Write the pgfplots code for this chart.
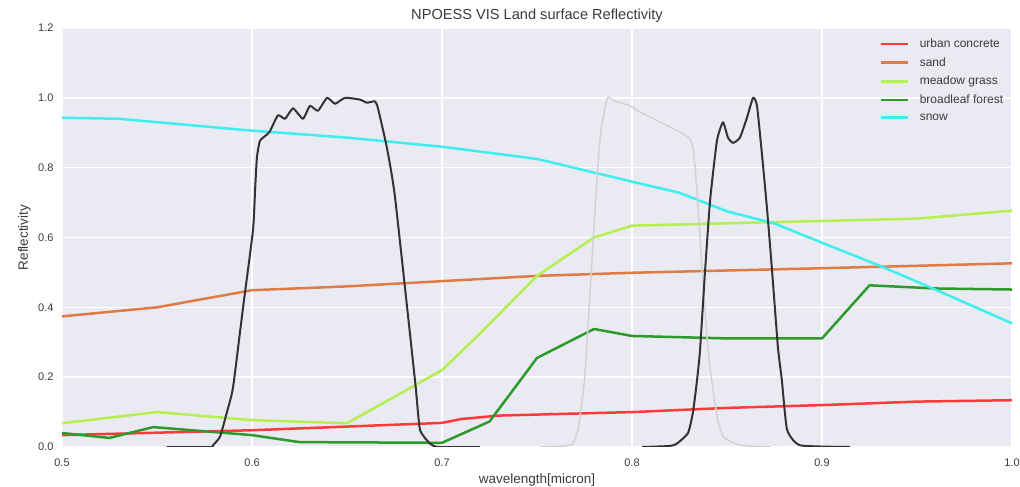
\documentclass[border=0pt]{standalone}
\usepackage{pgfplots}
\pgfplotsset{compat=1.18}
\usepackage{fontspec}
\setmainfont{Liberation Sans}
\definecolor{bg}{HTML}{EAEAF2}
\definecolor{txt}{HTML}{3A3A3A}
\definecolor{cred}{HTML}{FF3A3A}
\definecolor{csand}{HTML}{E07B45}
\definecolor{cgrass}{HTML}{B4F050}
\definecolor{cforest}{HTML}{2E9A2E}
\definecolor{csnow}{HTML}{3FEFEF}
\definecolor{cblack}{HTML}{333333}
\definecolor{cgray}{HTML}{D2D2D2}
\begin{document}
\begin{tikzpicture}[x=1pt,y=1pt]
\path[use as bounding box] (-62,-40) rectangle (958,447);
\begin{axis}[
  at={(0,0)}, anchor=south west,
  scale only axis, width=950pt, height=419pt,
  xmin=0.5, xmax=1.0, ymin=0, ymax=1.2,
  axis background/.style={fill=bg},
  axis line style={draw=none},
  major tick length=0pt,
  grid=major,
  major grid style={white, line width=1.5pt},
  xtick={0.5,0.6,0.7,0.8,0.9,1.0},
  xticklabels={0.5,0.6,0.7,0.8,0.9,1.0},
  ytick={0,0.2,0.4,0.6,0.8,1.0,1.2},
  yticklabels={0.0,0.2,0.4,0.6,0.8,1.0,1.2},
  /pgf/number format/assume math mode=true,
  ticklabel style={font=\fontsize{11}{13}\selectfont, text=txt},
  yticklabel style={xshift=-5pt},
  xticklabel style={yshift=-8pt},
  title={NPOESS VIS Land surface Reflectivity},
  title style={at={(0.5,1)}, anchor=base, yshift=2pt, font=\fontsize{14.6}{17}\selectfont, text=txt},
  xlabel={wavelength[micron]},
  xlabel style={at={(0.5,0)}, anchor=base, yshift=-36pt, font=\fontsize{13.5}{16}\selectfont, text=txt},
  ylabel={Reflectivity},
  ylabel style={at={(0,0.5)}, anchor=base, yshift=34pt, font=\fontsize{13.5}{16}\selectfont, text=txt},
  legend style={at={(0.858,0.984)}, anchor=north west, draw=none, fill=none,
    font=\fontsize{12}{14}\selectfont, text=txt, row sep=4.5pt, column sep=9pt, inner sep=2pt},
  legend cell align=left,
  legend image code/.code={\draw[#1] (0pt,0pt) -- (27pt,0pt);},
  every axis plot/.append style={line join=round},
]
\addplot[cred, line width=2.5pt] coordinates {(0.5,0.034) (0.6,0.048) (0.7,0.069) (0.71,0.08) (0.73,0.09) (0.8,0.1) (0.85,0.112) (0.9,0.12) (0.95,0.13) (1.0,0.134)};
\addlegendentry{urban concrete}
\addplot[csand, line width=2.5pt] coordinates {(0.5,0.374) (0.55,0.4) (0.6,0.449) (0.65,0.46) (0.7,0.475) (0.75,0.49) (0.8,0.499) (0.9,0.512) (1.0,0.526)};
\addlegendentry{sand}
\addplot[cgrass, line width=2.5pt] coordinates {(0.5,0.068) (0.55,0.1) (0.6,0.077) (0.65,0.068) (0.7,0.22) (0.72,0.325) (0.75,0.49) (0.78,0.6) (0.8,0.634) (0.95,0.654) (1.0,0.677)};
\addlegendentry{meadow grass}
\addplot[cforest, line width=2.5pt] coordinates {(0.5,0.04) (0.525,0.026) (0.548,0.057) (0.6,0.034) (0.625,0.014) (0.7,0.012) (0.725,0.073) (0.75,0.255) (0.78,0.338) (0.8,0.318) (0.85,0.311) (0.9,0.311) (0.925,0.463) (0.96,0.454) (1.0,0.451)};
\addlegendentry{broadleaf forest}
\addplot[csnow, line width=2.5pt] coordinates {(0.5,0.943) (0.53,0.94) (0.6,0.906) (0.65,0.886) (0.7,0.86) (0.75,0.825) (0.8,0.76) (0.825,0.728) (0.85,0.675) (0.875,0.64) (0.9,0.585) (0.93,0.52) (0.96,0.45) (1.0,0.354)};
\addlegendentry{snow}
\addplot[cblack, line width=2pt, smooth, tension=0.3, forget plot] coordinates {(0.555,0) (0.578,0) (0.5795,0.005) (0.5832,0.03) (0.5868,0.1) (0.59,0.17) (0.5953,0.4) (0.6005,0.62) (0.6016,0.734) (0.6026,0.83) (0.6042,0.877) (0.6079,0.895) (0.6095,0.905) (0.6137,0.95) (0.6174,0.94) (0.6216,0.97) (0.6268,0.94) (0.6305,0.977) (0.6347,0.963) (0.6395,1.0) (0.6437,0.983) (0.6489,1.0) (0.6568,0.995) (0.6605,0.986) (0.6647,0.99) (0.6663,0.97) (0.671,0.857) (0.6753,0.714) (0.6858,0.19) (0.6884,0.05) (0.6937,0.01) (0.698,0) (0.72,0)};
\addplot[cgray, line width=1.5pt, smooth, tension=0.3, forget plot] coordinates {(0.7516,0) (0.765,0.003) (0.769,0.01) (0.7716,0.05) (0.775,0.19) (0.778,0.45) (0.781,0.72) (0.7835,0.9) (0.787,1.0) (0.791,0.99) (0.799,0.977) (0.803,0.963) (0.815,0.93) (0.829,0.89) (0.832,0.86) (0.834,0.75) (0.837,0.5) (0.84,0.28) (0.842,0.19) (0.845,0.08) (0.848,0.03) (0.854,0.01) (0.8605,0.003) (0.873,0)};
\addplot[cblack, line width=2pt, smooth, tension=0.3, forget plot] coordinates {(0.8053,0) (0.82,0.003) (0.8237,0.01) (0.8295,0.04) (0.8321,0.1) (0.8342,0.19) (0.8358,0.277) (0.8384,0.5) (0.8411,0.706) (0.8447,0.877) (0.8479,0.93) (0.8505,0.886) (0.8532,0.871) (0.8568,0.886) (0.8605,0.943) (0.8637,1.0) (0.8658,0.977) (0.8689,0.81) (0.8711,0.68) (0.8737,0.506) (0.8768,0.286) (0.8789,0.19) (0.8816,0.05) (0.8884,0.005) (0.9147,0)};
\end{axis}
\end{tikzpicture}
\end{document}
